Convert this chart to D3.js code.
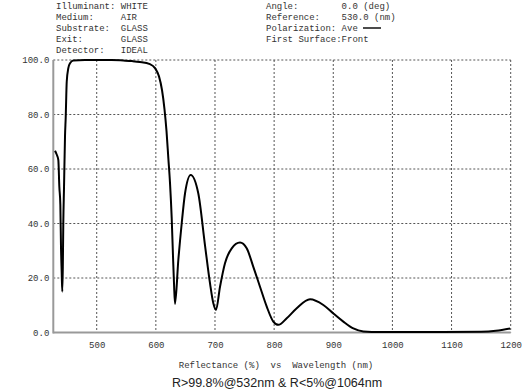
<!DOCTYPE html>
<html>
<head>
<meta charset="utf-8">
<script src="https://cdn.jsdelivr.net/npm/d3@7/dist/d3.min.js"></script>
<style>
  html, body { margin: 0; padding: 0; background: #fff; }
  svg { display: block; }
  .mono { font-family: "Liberation Mono", "Courier New", monospace; font-size: 9px; fill: #333; white-space: pre; }
</style>
</head>
<body>
<svg id="chart" width="532" height="391"></svg>
<script>
// ---- data ----
const wavelength = [429.5, 432.0, 435.1, 436.8, 438.5, 439.6, 440.8, 441.8, 442.7, 443.5, 444.7, 446.4, 447.6, 449.3, 452.0, 454.9, 460.4,
  480, 500, 525, 545, 560, 573, 590, 598.6, 605.3, 610.4, 614.6, 618.0, 621.1, 623.9, 626.8, 629.0, 630.7, 632.4,
  638, 643.7, 649.3, 658.9, 671.8, 683.1, 691.6, 697.2, 701.7, 708.5, 716.9, 728.3, 742.3, 753.6, 764.8, 776.1, 787.5, 798.6, 807.1,
  821.3, 838.2, 860.7, 883.2, 900.1, 917, 933.9, 950.8, 979, 1050, 1150, 1175, 1199];
const reflectance = [66.7, 65.5, 63.3, 53.5, 47, 31.5, 22, 15, 24, 40, 53, 72, 79, 92, 97, 98.8, 99.8,
  100, 100, 100, 99.8, 99.6, 99.3, 98.5, 97, 94, 89, 82, 74, 64, 55, 42, 28, 18, 10.5,
  26.6, 40, 51, 57.8, 51, 32, 18, 10.7, 8.3, 16.8, 25.4, 30.9, 33, 30.9, 24.1, 16.8, 9.5, 4, 2.8,
  5.2, 8.9, 12.2, 10.1, 7, 4, 1.5, 0.4, 0.15, 0.15, 0.25, 0.6, 1.5];
const xTicks = [500, 600, 700, 800, 900, 1000, 1100, 1200];
const yTicks = [0, 20, 40, 60, 80, 100];
const headerLeft = ["Illuminant: WHITE", "Medium:     AIR", "Substrate:  GLASS", "Exit:       GLASS", "Detector:   IDEAL"];
const headerRight = ["Angle:        0.0 (deg)", "Reference:    530.0 (nm)", "Polarization: Ave", "First Surface:Front"];
const axisTitle = "Reflectance (%)  vs  Wavelength (nm)";
const caption = "R>99.8%@532nm & R<5%@1064nm";

// ---- layout ----
const svg = d3.select("#chart");
const x = d3.scaleLinear().domain([426.6, 1200]).range([53.3, 510.7]);
const y = d3.scaleLinear().domain([0, 100]).range([332.5, 60]);

// gridlines
const grid = svg.append("g");
grid.selectAll("line.v").data(xTicks).join("line")
  .attr("x1", d => x(d)).attr("x2", d => x(d))
  .attr("y1", y(100)).attr("y2", y(0))
  .attr("stroke", "#555").attr("stroke-width", 1).attr("stroke-dasharray", "2,2");
grid.selectAll("line.h").data(yTicks.filter(d => d > 0)).join("line")
  .attr("x1", x.range()[0]).attr("x2", x.range()[1])
  .attr("y1", d => y(d)).attr("y2", d => y(d))
  .attr("stroke", "#555").attr("stroke-width", 1).attr("stroke-dasharray", "2,2");

// axes
const xAxis = d3.axisBottom(x).tickValues(xTicks).tickSize(0).tickPadding(9).tickFormat(d3.format("d"));
const yAxis = d3.axisLeft(y).tickValues(yTicks).tickSize(0).tickPadding(4).tickFormat(d3.format(".1f"));
const gx = svg.append("g").attr("transform", `translate(0,${y(0)})`).call(xAxis);
const gy = svg.append("g").attr("transform", `translate(${x.range()[0]},0)`).call(yAxis);
[gx, gy].forEach(g => {
  g.select(".domain").remove();
  g.selectAll("text").attr("class", "mono").attr("font-family", null).attr("font-size", null).style("fill", "#333");
});
svg.append("line").attr("x1", x.range()[0]).attr("x2", x.range()[0]).attr("y1", y(100)).attr("y2", y(0) + 1)
  .attr("stroke", "#999").attr("stroke-width", 2);
svg.append("line").attr("x1", x.range()[0]).attr("x2", x.range()[1]).attr("y1", y(0)).attr("y2", y(0))
  .attr("stroke", "#999").attr("stroke-width", 2);

// curve
const pts = wavelength.map((w, i) => [w, reflectance[i]]);
svg.append("path").datum(pts)
  .attr("fill", "none").attr("stroke", "#000").attr("stroke-width", 2).attr("stroke-linejoin", "round")
  .attr("d", d3.line().x(d => x(d[0])).y(d => y(d[1])).curve(d3.curveMonotoneX));

// header
const rowY = [9, 20, 31, 42, 53];
const hdr = svg.append("g");
headerLeft.forEach((t, i) => hdr.append("text").attr("class", "mono").attr("x", 56).attr("y", rowY[i]).text(t));
headerRight.forEach((t, i) => hdr.append("text").attr("class", "mono").attr("x", 266).attr("y", rowY[i]).text(t));
hdr.append("line").attr("x1", 363).attr("x2", 381).attr("y1", rowY[2] - 3).attr("y2", rowY[2] - 3)
  .attr("stroke", "#111").attr("stroke-width", 1.5);

// axis title & caption
svg.append("text").attr("class", "mono").attr("x", 276).attr("y", 368).attr("text-anchor", "middle").text(axisTitle);
svg.append("text").attr("x", 277).attr("y", 387).attr("text-anchor", "middle")
  .attr("font-family", "'Liberation Sans', Arial, sans-serif").attr("font-size", 12.5).attr("fill", "#222")
  .text(caption);
</script>
</body>
</html>
